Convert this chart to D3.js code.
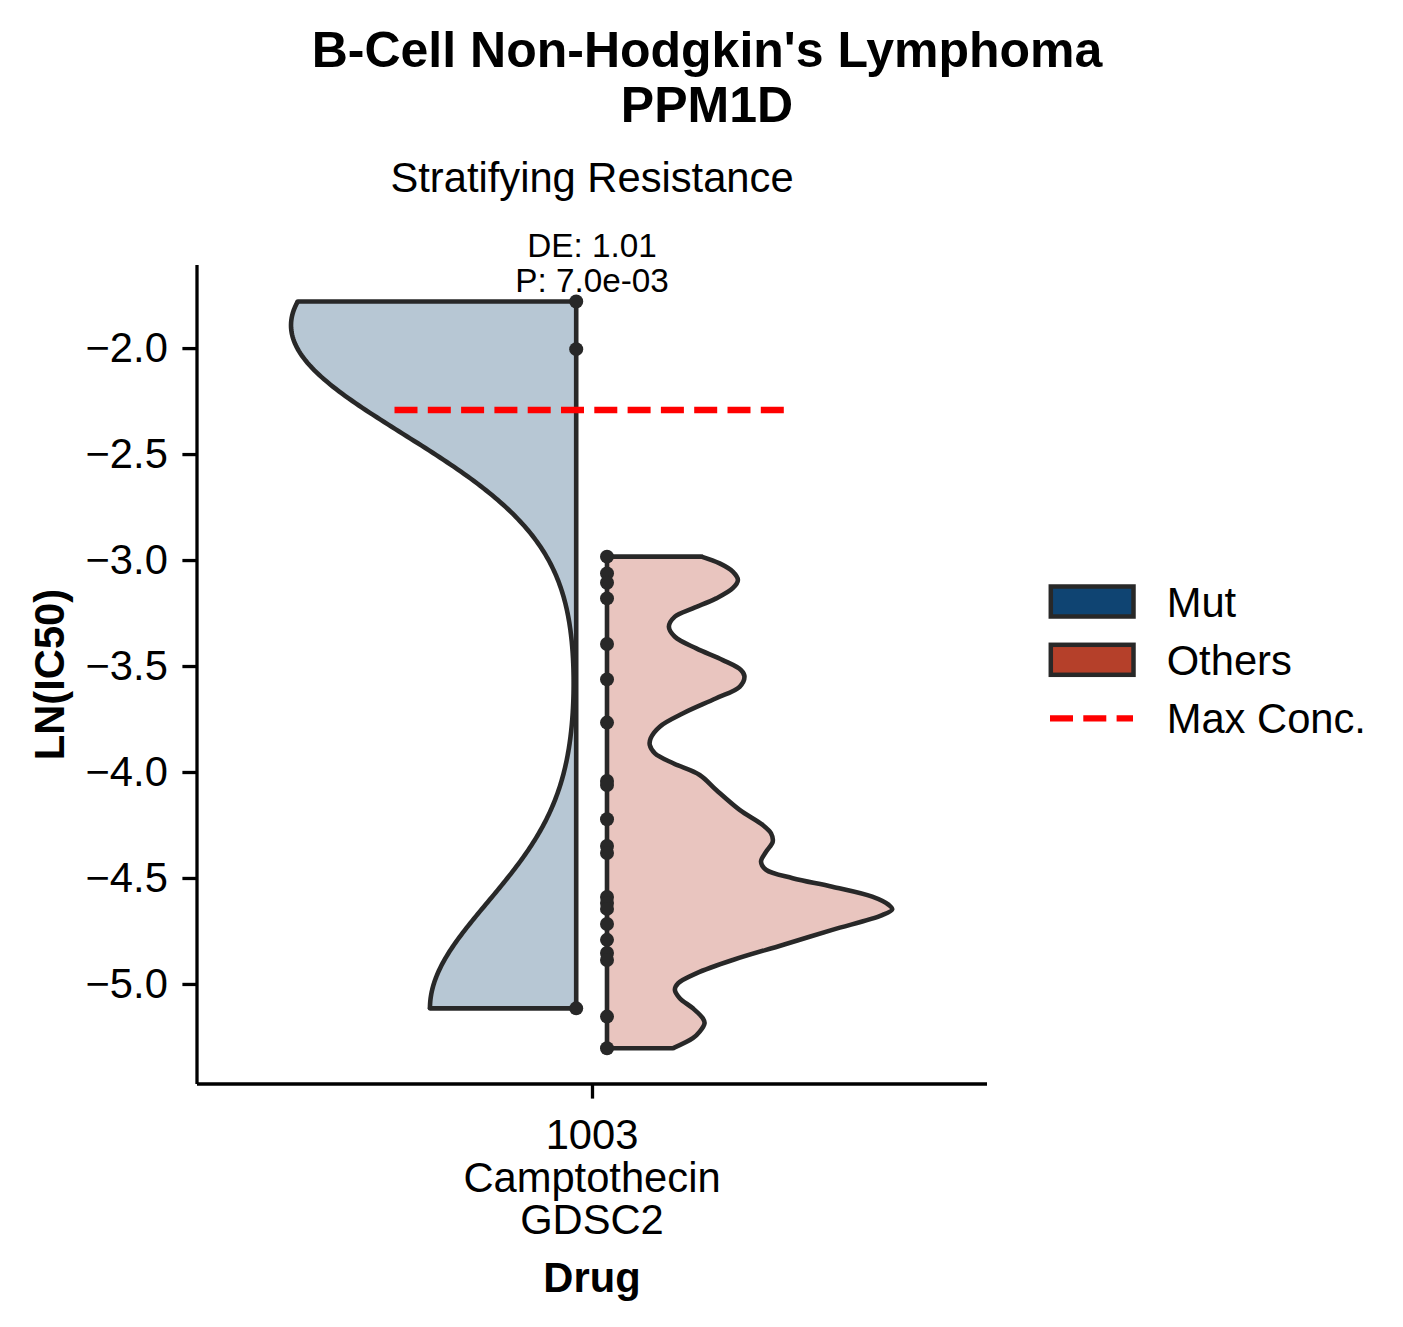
<!DOCTYPE html>
<html>
<head>
<meta charset="utf-8">
<script src="https://cdn.jsdelivr.net/npm/d3@7"></script>
<style>
  html, body { margin: 0; padding: 0; background: #ffffff; }
  svg { display: block; font-family: "Liberation Sans", Arial, sans-serif; }
</style>
</head>
<body>
<svg id="chart" width="1403" height="1327"></svg>
<script>
// ---------------- data ----------------
const titleLines = ["B-Cell Non-Hodgkin's Lymphoma", "PPM1D"];
const subtitle = "Stratifying Resistance";
const categories = ["1003\nCamptothecin\nGDSC2"];
const groups = ["Mut", "Others"];
const groupColors = ["#0F4472", "#B5402A"];
const mutValues = [-1.780, -2.005, -5.115];
const othersValues = [-2.984, -3.063, -3.107, -3.181, -3.396, -3.563, -3.767, -4.042, -4.061,
  -4.223, -4.349, -4.382, -4.590, -4.618, -4.646, -4.717, -4.792, -4.854, -4.887, -5.154, -5.303];
// density profile of the "Others" violin (value level, relative density)
const othersDensityLevels = [-2.984, -3.016, -3.055, -3.094, -3.133, -3.181, -3.228, -3.267, -3.315, -3.362,
  -3.417, -3.472, -3.519, -3.550, -3.598, -3.652, -3.723, -3.786, -3.841, -3.873, -3.912, -3.959, -4.014,
  -4.085, -4.179, -4.250, -4.289, -4.329, -4.376, -4.423, -4.462, -4.501, -4.541, -4.588, -4.627, -4.648,
  -4.675, -4.745, -4.816, -4.887, -4.950, -4.997, -5.028, -5.067, -5.115, -5.162, -5.185, -5.225, -5.256, -5.303];
const othersDensity = [0.331, 0.395, 0.441, 0.459, 0.441, 0.383, 0.301, 0.238, 0.217, 0.238,
  0.313, 0.406, 0.470, 0.482, 0.465, 0.383, 0.267, 0.185, 0.153, 0.150, 0.168, 0.232, 0.325,
  0.383, 0.465, 0.546, 0.575, 0.581, 0.558, 0.540, 0.558, 0.651, 0.790, 0.930, 0.988, 1.000,
  0.965, 0.790, 0.616, 0.441, 0.313, 0.249, 0.238, 0.255, 0.301, 0.336, 0.342, 0.325, 0.301, 0.232];
const maxConc = -2.292;
const annotation = ["DE: 1.01", "P: 7.0e-03"];
const yTicks = [-2.0, -2.5, -3.0, -3.5, -4.0, -4.5, -5.0];
const yLabel = "LN(IC50)";
const xLabel = "Drug";
const legendLabels = ["Mut", "Others", "Max Conc."];
const mutBandwidth = 0.5;

// ---------------- layout ----------------
const svg = d3.select("#chart");
const plot = { left: 197, right: 987, top: 265, bottom: 1084 };
const x = d3.scaleLinear().domain([-0.5, 0.5]).range([plot.left, plot.right]);
const y = d3.scaleLinear().domain([-5.472, -1.608]).range([plot.bottom, plot.top]);
const ink = "#282828";
const font = "'Liberation Sans', Arial, sans-serif";
const lw = 4.6;

// title
svg.append("text").attr("x", 707).attr("y", 67).attr("text-anchor", "middle")
  .attr("font-size", 50).attr("font-weight", "bold").text(titleLines[0]);
svg.append("text").attr("x", 707).attr("y", 122).attr("text-anchor", "middle")
  .attr("font-size", 50).attr("font-weight", "bold").text(titleLines[1]);
svg.append("text").attr("x", x(0)).attr("y", 192).attr("text-anchor", "middle")
  .attr("font-size", 41.7).text(subtitle);

// KDE for Mut
function kde(values, h, n) {
  const lo = d3.min(values), hi = d3.max(values);
  const pts = d3.range(n).map(i => lo + (hi - lo) * i / (n - 1));
  return pts.map(v => [v, d3.sum(values, d => Math.exp(-0.5 * ((v - d) / h) ** 2))]);
}
const mutDens = (() => {
  const d = kde(mutValues, mutBandwidth, 300);
  const m = d3.max(d, e => e[1]);
  return d.map(e => [e[0], e[1] / m]);
})();
const othersDens = othersDensityLevels.map((v, i) => [v, othersDensity[i]]);

const gap = 0.02, halfW = 0.361;
const groupData = [mutValues, othersValues];
const groupDens = [mutDens, othersDens];
const groupCurve = [d3.curveLinear, d3.curveCatmullRom.alpha(0.5)];
groupData.forEach((vals, gi) => {
  const dens = groupDens[gi];
  const side = gi === 0 ? -1 : 1;
  const base = gi === 0 ? -gap : gap - 0.001;
  const area = d3.area()
    .x0(() => x(base))
    .x1(d => x(base + side * halfW * d[1]))
    .y(d => y(d[0]))
    .curve(groupCurve[gi]);
  svg.append("path").datum(dens)
    .attr("d", area)
    .attr("fill", groupColors[gi]).attr("fill-opacity", 0.3).attr("stroke", "none");
  const line = d3.line()
    .x(d => x(base + side * halfW * d[1]))
    .y(d => y(d[0]))
    .curve(groupCurve[gi]);
  svg.append("path").datum(dens)
    .attr("d", line).attr("fill", "none").attr("stroke", ink).attr("stroke-width", lw)
    .attr("stroke-linejoin", "round");
  // flat caps at both ends
  [dens[0], dens[dens.length - 1]].forEach(d => {
    svg.append("line")
      .attr("x1", x(base)).attr("x2", x(base + side * halfW * d[1]))
      .attr("y1", y(d[0])).attr("y2", y(d[0]))
      .attr("stroke", ink).attr("stroke-width", lw).attr("stroke-linecap", "round");
  });
  // inner line
  svg.append("line")
    .attr("x1", x(base)).attr("x2", x(base))
    .attr("y1", y(d3.max(vals))).attr("y2", y(d3.min(vals)))
    .attr("stroke", ink).attr("stroke-width", lw);
  svg.selectAll(null).data(vals).enter().append("circle")
    .attr("cx", x(base)).attr("cy", d => y(d)).attr("r", 7).attr("fill", ink);
});

// max conc line
svg.append("line")
  .attr("x1", x(-0.25)).attr("x2", x(0.25))
  .attr("y1", y(maxConc)).attr("y2", y(maxConc))
  .attr("stroke", "#ff0000").attr("stroke-width", 6.3).attr("stroke-dasharray", "23,10.3");

// annotation
svg.append("text").attr("x", x(0)).attr("y", 257).attr("text-anchor", "middle")
  .attr("font-size", 33.3).text(annotation[0]);
svg.append("text").attr("x", x(0)).attr("y", 292).attr("text-anchor", "middle")
  .attr("font-size", 33.3).text(annotation[1]);

// axes
const yAxis = d3.axisLeft(y).tickValues(yTicks).tickSize(14.6).tickPadding(14.6)
  .tickFormat(d => d3.format(".1f")(d).replace("-", "\u2212"));
const gy = svg.append("g").attr("transform", `translate(${plot.left},0)`).call(yAxis);
gy.select(".domain").attr("d", `M0,${plot.top}V${plot.bottom}`).attr("stroke", "#000").attr("stroke-width", 3.3);
gy.selectAll(".tick line").attr("stroke", "#000").attr("stroke-width", 3.3);
gy.selectAll(".tick text").attr("font-size", 41.7).attr("fill", "#000").attr("font-family", font);

const xAxis = d3.axisBottom(x).tickValues([0]).tickSize(14.6).tickFormat(() => "");
const gx = svg.append("g").attr("transform", `translate(0,${plot.bottom})`).call(xAxis);
gx.select(".domain").attr("d", `M${plot.left},0H${plot.right}`).attr("stroke", "#000").attr("stroke-width", 3.3);
gx.selectAll(".tick line").attr("stroke", "#000").attr("stroke-width", 3.3);
categories[0].split("\n").forEach((t, i) => {
  svg.append("text").attr("x", x(0)).attr("y", 1149 + i * 42.5).attr("text-anchor", "middle")
    .attr("font-size", 41.7).text(t);
});
svg.append("text").attr("x", x(0)).attr("y", 1292).attr("text-anchor", "middle")
  .attr("font-size", 41.7).attr("font-weight", "bold").text(xLabel);
svg.append("text").attr("transform", `translate(64,${(plot.top + plot.bottom) / 2}) rotate(-90)`)
  .attr("text-anchor", "middle").attr("font-size", 41.7).attr("font-weight", "bold").text(yLabel);

// legend
const lg = svg.append("g");
[0, 1].forEach(i => {
  lg.append("rect").attr("x", 1050.8).attr("y", 586.5 + i * 58.3).attr("width", 82.7).attr("height", 30)
    .attr("fill", groupColors[i]).attr("stroke", ink).attr("stroke-width", 4.5);
});
lg.append("line").attr("x1", 1050).attr("x2", 1133).attr("y1", 718.3).attr("y2", 718.3)
  .attr("stroke", "#ff0000").attr("stroke-width", 6.3).attr("stroke-dasharray", "23,10.3");
legendLabels.forEach((t, i) => {
  lg.append("text").attr("x", 1166.7).attr("y", 616.5 + i * 58.3).attr("font-size", 41.7).text(t);
});
</script>
</body>
</html>
